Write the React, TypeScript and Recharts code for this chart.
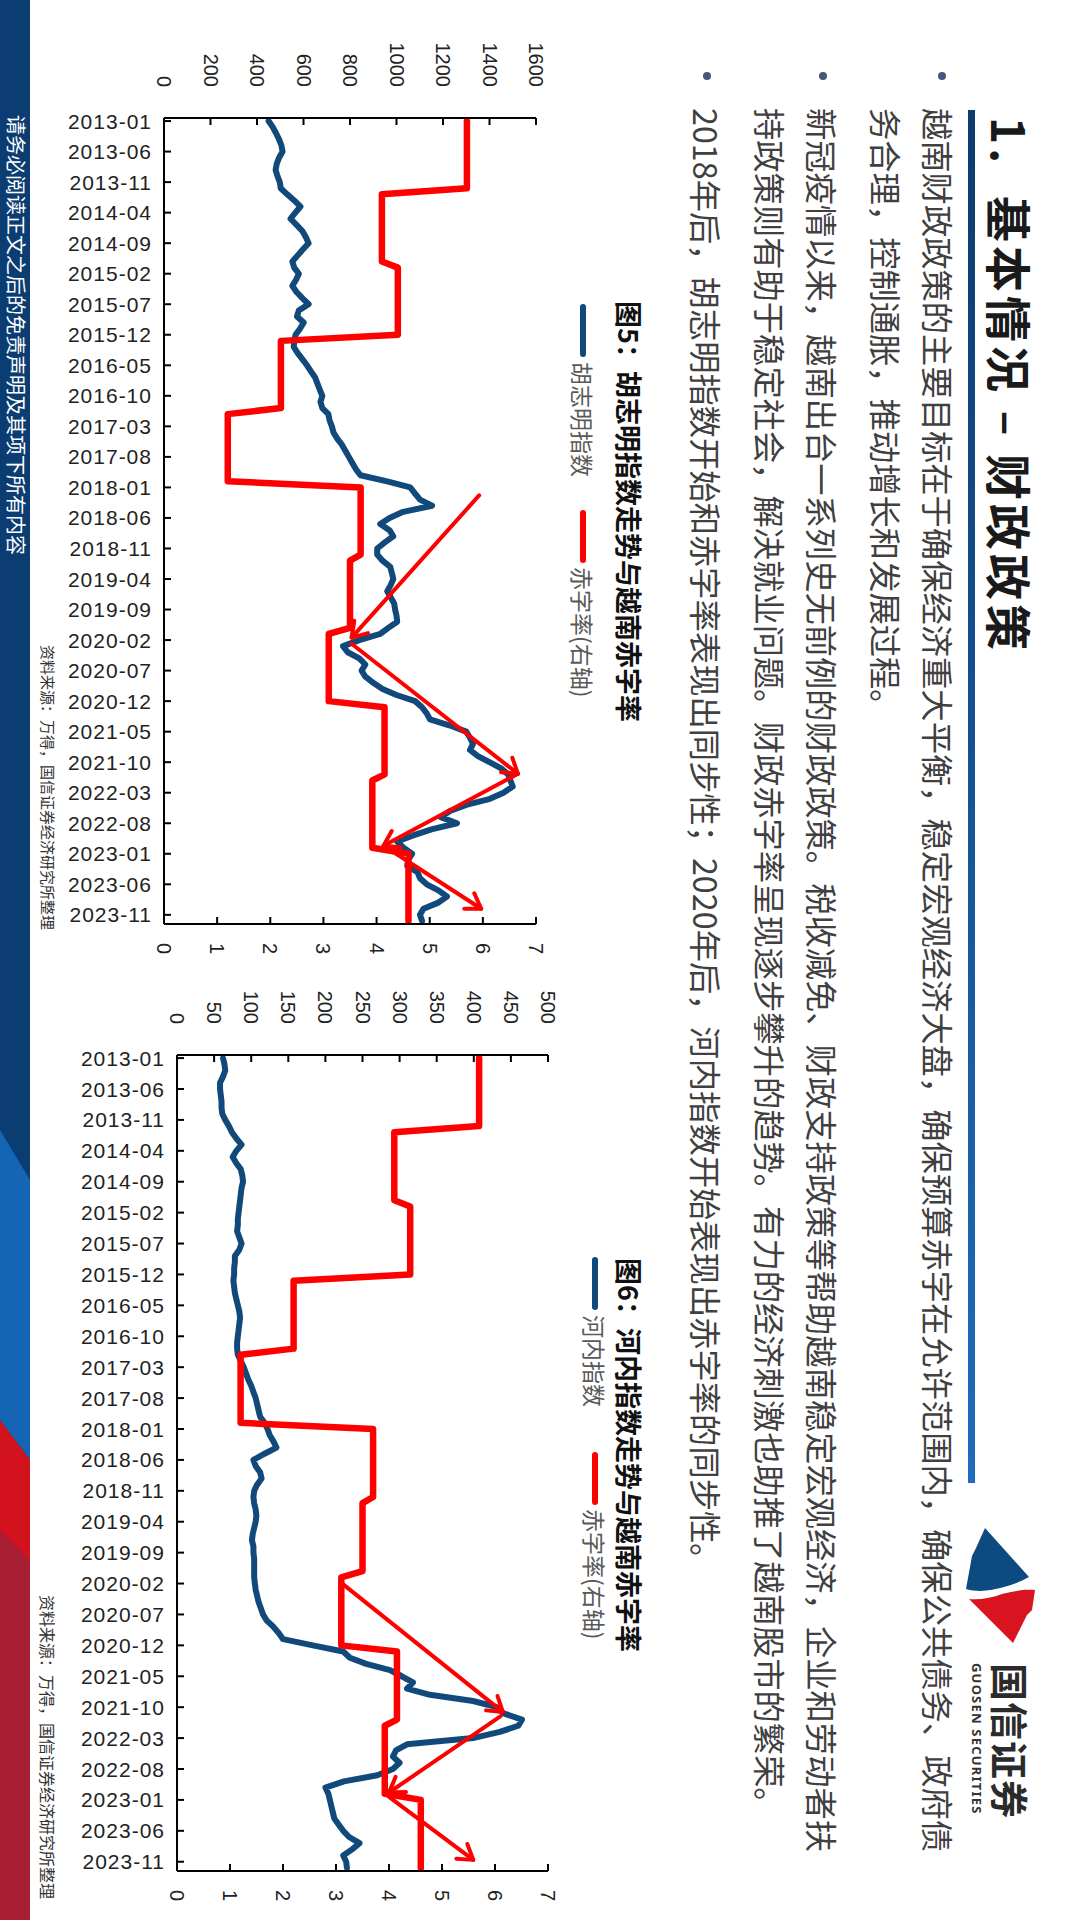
import React from "react";
import { LineChart, Line, XAxis, YAxis, ReferenceLine } from "recharts";

// month labels shown on the date axis (every 5th month, 2013-01 .. 2023-11)
const TICK_LABELS = [
  "2013-01", "2013-06", "2013-11", "2014-04", "2014-09", "2015-02", "2015-07",
  "2015-12", "2016-05", "2016-10", "2017-03", "2017-08", "2018-01", "2018-06",
  "2018-11", "2019-04", "2019-09", "2020-02", "2020-07", "2020-12", "2021-05",
  "2021-10", "2022-03", "2022-08", "2023-01", "2023-06", "2023-11",
];

// monthly values 2013-01 .. 2023-12, one row per year
const HCM_INDEX = [
  450, 468, 482, 495, 505, 510, 495, 485, 480, 488, 498, 502,
  530, 560, 587, 565, 544, 570, 595, 610, 622, 598, 575, 552,
  560, 580, 568, 552, 570, 595, 622, 580, 572, 601, 585, 566,
  560, 558, 575, 595, 615, 632, 650, 660, 670, 681, 673, 681,
  707, 712, 722, 729, 745, 765, 780, 795, 810, 825, 845, 960,
  1059, 1080, 1101, 1153, 1029, 970, 930, 970, 986, 950, 917, 917,
  940, 973, 980, 986, 975, 960, 975, 990, 994, 1000, 1003, 965,
  930, 840, 770, 790, 840, 866, 850, 866, 900, 940, 1000, 1080,
  1110, 1130, 1144, 1230, 1300, 1316, 1329, 1316, 1350, 1400, 1450, 1480,
  1490, 1500, 1460, 1402, 1300, 1230, 1190, 1260, 1150, 1072, 1003, 1030,
  1067, 1050, 1046, 1090, 1101, 1130, 1180, 1217, 1180, 1116, 1101, 1110,
];

const HNX_INDEX = [
  62, 64, 65, 62, 58, 58, 59, 60, 60, 61, 65, 70,
  74, 80, 87, 80, 75, 80, 86, 88, 89, 87, 86, 85,
  84, 83, 82, 82, 81, 84, 87, 84, 78, 78, 77, 77,
  76, 77, 78, 80, 82, 84, 85, 84, 83, 82, 81, 81,
  82, 86, 90, 93, 96, 100, 103, 106, 108, 110, 112, 118,
  122, 125, 130, 134, 118, 103, 106, 112, 114, 108, 104, 103,
  104, 106, 107, 106, 104, 102, 101, 103, 103, 104, 104, 104,
  104, 105, 106, 108, 110, 113, 116, 121, 130, 137, 143, 183,
  224, 233, 255, 287, 303, 318, 310, 341, 399, 431, 440, 465,
  460, 435, 399, 310, 295, 291, 300, 291, 270, 225, 200, 204,
  206, 208, 210, 212, 218, 224, 232, 246, 236, 224, 228, 229,
];

// 越南赤字率 (%), same value for each month of a year
const DEFICIT_RATE = [
  5.7, 5.7, 5.7, 5.7, 5.7, 5.7, 5.7, 5.7, 5.7, 5.7, 5.7, 5.7,
  4.1, 4.1, 4.1, 4.1, 4.1, 4.1, 4.1, 4.1, 4.1, 4.1, 4.1, 4.1,
  4.4, 4.4, 4.4, 4.4, 4.4, 4.4, 4.4, 4.4, 4.4, 4.4, 4.4, 4.4,
  2.2, 2.2, 2.2, 2.2, 2.2, 2.2, 2.2, 2.2, 2.2, 2.2, 2.2, 2.2,
  1.2, 1.2, 1.2, 1.2, 1.2, 1.2, 1.2, 1.2, 1.2, 1.2, 1.2, 1.2,
  3.7, 3.7, 3.7, 3.7, 3.7, 3.7, 3.7, 3.7, 3.7, 3.7, 3.7, 3.7,
  3.5, 3.5, 3.5, 3.5, 3.5, 3.5, 3.5, 3.5, 3.5, 3.5, 3.5, 3.5,
  3.1, 3.1, 3.1, 3.1, 3.1, 3.1, 3.1, 3.1, 3.1, 3.1, 3.1, 3.1,
  4.15, 4.15, 4.15, 4.15, 4.15, 4.15, 4.15, 4.15, 4.15, 4.15, 4.15, 4.15,
  3.92, 3.92, 3.92, 3.92, 3.92, 3.92, 3.92, 3.92, 3.92, 3.92, 3.92, 3.92,
  4.6, 4.6, 4.6, 4.6, 4.6, 4.6, 4.6, 4.6, 4.6, 4.6, 4.6, 4.6,
];

const HCM_TICKS = [0, 200, 400, 600, 800, 1000, 1200, 1400, 1600];
const HNX_TICKS = [0, 50, 100, 150, 200, 250, 300, 350, 400, 450, 500];
const RATE_TICKS = [0, 1, 2, 3, 4, 5, 6, 7];

// hand-drawn red arrows, [monthIndex, rate] start -> end
const HCM_ARROWS = [
  [[61.3, 5.93], [84.6, 3.53]],
  [[85.6, 3.53], [106.9, 6.66]],
  [[106.9, 6.66], [118.7, 4.13]],
  [[119.5, 4.28], [129.0, 5.97]],
];
const HNX_ARROWS = [
  [[84.9, 3.1], [105.8, 6.15]],
  [[106.5, 6.1], [118.8, 4.0]],
  [[119.5, 4.0], [129.7, 5.59]],
];

const hcmData = HCM_INDEX.map((v, i) => ({ i, idx: v, rate: DEFICIT_RATE[i] }));
const hnxData = HNX_INDEX.map((v, i) => ({ i, idx: v, rate: DEFICIT_RATE[i] }));
const dateTicks = TICK_LABELS.map((_, k) => k * 5);

const CJK = '"Noto Sans CJK SC", "Noto Sans", sans-serif';
const AXIS_FONT = '"Liberation Sans", "Noto Sans CJK SC", sans-serif';
const BLUE = "#114a7a";
const RED = "#ff0000";

function DateTick(props: any) {
  const { x, y, payload } = props;
  const ty = y + 12;
  return (
    <g>
      <line x1={x} y1={y} x2={x} y2={y - 7} stroke="#000" strokeWidth={2} />
      <text
        x={x}
        y={ty}
        transform={`rotate(-90 ${x} ${ty})`}
        textAnchor="end"
        dominantBaseline="central"
        fontSize={21}
        letterSpacing={1}
        fill="#222"
        fontFamily={AXIS_FONT}
      >
        {TICK_LABELS[Math.round(payload.value / 5)]}
      </text>
    </g>
  );
}

function LeftTick(props: any) {
  const { x, y, payload } = props;
  return (
    <g>
      <line x1={x} y1={y} x2={x + 7} y2={y} stroke="#000" strokeWidth={2} />
      <text x={x - 31} y={y} textAnchor="end" dominantBaseline="central" fontSize={20} fill="#222" fontFamily={AXIS_FONT}>
        {payload.value}
      </text>
    </g>
  );
}

function RightTick(props: any) {
  const { x, y, payload } = props;
  return (
    <g>
      <line x1={x} y1={y} x2={x - 7} y2={y} stroke="#000" strokeWidth={2} />
      <text x={x + 19} y={y} textAnchor="start" dominantBaseline="central" fontSize={20} fill="#222" fontFamily={AXIS_FONT}>
        {payload.value}
      </text>
    </g>
  );
}

const arrowShape = (props: any) => {
  const { x1, y1, x2, y2 } = props;
  const ang = Math.atan2(y2 - y1, x2 - x1);
  const L = 17;
  const a = Math.PI / 5.5;
  const p1 = `${x2 - L * Math.cos(ang - a)},${y2 - L * Math.sin(ang - a)}`;
  const p2 = `${x2 - L * Math.cos(ang + a)},${y2 - L * Math.sin(ang + a)}`;
  return (
    <g>
      <line x1={x1} y1={y1} x2={x2} y2={y2} stroke={RED} strokeWidth={4} strokeLinecap="round" />
      <polyline points={`${p1} ${x2},${y2} ${p2}`} fill="none" stroke={RED} strokeWidth={4} strokeLinecap="round" strokeLinejoin="round" />
    </g>
  );
};

type PanelProps = {
  data: { i: number; idx: number; rate: number }[];
  leftMax: number;
  leftTicks: number[];
  arrows: number[][][];
  width: number;
  height: number;
};

function Panel({ data, leftMax, leftTicks, arrows, width, height }: PanelProps) {
  const axisLine = { stroke: "#000", strokeWidth: 2 };
  return (
    <LineChart width={width} height={height} data={data} margin={{ top: 24, right: 0, bottom: 0, left: 0 }}>
      <XAxis
        dataKey="i"
        type="number"
        domain={[-0.5, 131.5]}
        ticks={dateTicks}
        interval={0}
        height={110}
        tickSize={0}
        tickMargin={0}
        tickLine={false}
        axisLine={axisLine}
        tick={<DateTick />}
      />
      <YAxis
        yAxisId="left"
        domain={[0, leftMax]}
        ticks={leftTicks}
        interval={0}
        width={118}
        tickSize={0}
        tickMargin={0}
        tickLine={false}
        axisLine={axisLine}
        tick={<LeftTick />}
      />
      <YAxis
        yAxisId="right"
        orientation="right"
        domain={[0, 7]}
        ticks={RATE_TICKS}
        interval={0}
        width={40}
        tickSize={0}
        tickMargin={0}
        tickLine={false}
        axisLine={axisLine}
        tick={<RightTick />}
      />
      <Line yAxisId="left" type="linear" dataKey="idx" stroke={BLUE} strokeWidth={6} dot={false} strokeLinejoin="round" strokeLinecap="round" isAnimationActive={false} />
      <Line yAxisId="right" type="linear" dataKey="rate" stroke={RED} strokeWidth={6.5} dot={false} strokeLinejoin="round" strokeLinecap="round" isAnimationActive={false} />
      {arrows.map((seg, k) => (
        <ReferenceLine
          key={k}
          yAxisId="right"
          ifOverflow="visible"
          segment={[
            { x: seg[0][0], y: seg[0][1] },
            { x: seg[1][0], y: seg[1][1] },
          ]}
          shape={arrowShape}
        />
      ))}
    </LineChart>
  );
}

const textLine = (top: number, text: string, full: boolean, key: string) => (
  <div
    key={key}
    style={{
      position: "absolute",
      left: 108,
      top: top - 18,
      width: 1732,
      height: 36,
      lineHeight: "36px",
      fontSize: 32.3,
      color: "#404040",
      textAlign: "justify",
      textAlignLast: full ? "justify" : "left",
      whiteSpace: "nowrap",
    } as React.CSSProperties}
  >
    {text}
  </div>
);

const bullet = (top: number, key: string) => (
  <div
    key={key}
    style={{ position: "absolute", left: 72, top: top - 4, width: 8, height: 8, borderRadius: 4, background: "#44587a" }}
  />
);

function Legend({ left, top, first, gap }: { left: number; top: number; first: string; gap: number }) {
  const txt: React.CSSProperties = { fontSize: 23, color: "#595959", lineHeight: "26px" };
  return (
    <div style={{ position: "absolute", left, top: top - 13, display: "flex", alignItems: "center", height: 26 }}>
      <div style={{ width: 53, height: 6, borderRadius: 3, background: BLUE, marginRight: 5 }} />
      <span style={{ ...txt, width: gap }}>{first}</span>
      <div style={{ width: 53, height: 6, borderRadius: 3, background: RED, marginRight: 4 }} />
      <span style={txt}>赤字率(右轴)</span>
    </div>
  );
}

export default function App() {
  return (
    <div
      style={{
        position: "absolute",
        left: 0,
        top: 0,
        width: 1920,
        height: 1080,
        overflow: "hidden",
        background: "#fff",
        transformOrigin: "0 0",
        transform: "translate(1080px, 0) rotate(90deg)",
        fontFamily: CJK,
      }}
    >
      {/* title */}
      <div style={{ position: "absolute", left: 117, top: 44, fontSize: 46, fontWeight: 700, color: "#1a1a1a", lineHeight: "50px", whiteSpace: "pre", letterSpacing: 4 }}>
        {"1.  基本情况 – 财政政策"}
      </div>
      <div style={{ position: "absolute", left: 110, top: 105, width: 1373, height: 7, background: "linear-gradient(90deg, #0d3b6e, #1f6cbc)" }} />

      {/* logo */}
      <svg style={{ position: "absolute", left: 1520, top: 40 }} width={130} height={82} viewBox="1520 40 130 82">
        <path d="M1528 95 L1577 51 C1582 60 1585 68 1587 76 C1590 88 1593 100 1589 114 L1556 108 L1548 104 Z" fill="#0d4a7f" />
        <path d="M1590 45 L1610 48 L1615 53 L1643 67 L1599 111 C1600 100 1598 88 1594 78 C1592 68 1589 58 1590 45 Z" fill="#d7141f" />
      </svg>
      <div style={{ position: "absolute", left: 1663, top: 48, fontSize: 38, fontWeight: 700, color: "#2b2b2b", lineHeight: "42px", letterSpacing: 1 }}>国信证券</div>
      <div style={{ position: "absolute", left: 1663, top: 96, fontSize: 13, fontWeight: 700, color: "#333", lineHeight: "15px", letterSpacing: 1.2, fontFamily: '"Noto Sans", sans-serif' }}>
        GUOSEN SECURITIES
      </div>

      {/* bullets */}
      {bullet(138, "b1")}
      {bullet(257, "b2")}
      {bullet(373, "b3")}
      {textLine(141, "越南财政政策的主要目标在于确保经济重大平衡，稳定宏观经济大盘，确保预算赤字在允许范围内，确保公共债务、政府债", true, "l1")}
      {textLine(193, "务合理，控制通胀，推动增长和发展过程。", false, "l2")}
      {textLine(257, "新冠疫情以来，越南出台一系列史无前例的财政政策。税收减免、财政支持政策等帮助越南稳定宏观经济，企业和劳动者扶", true, "l3")}
      {textLine(309, "持政策则有助于稳定社会，解决就业问题。财政赤字率呈现逐步攀升的趋势。有力的经济刺激也助推了越南股市的繁荣。", false, "l4")}
      {textLine(373, "2018年后，胡志明指数开始和赤字率表现出同步性；2020年后，河内指数开始表现出赤字率的同步性。", false, "l5")}

      {/* chart 5 */}
      <div style={{ position: "absolute", left: 301, top: 436, fontSize: 27, fontWeight: 700, color: "#111", lineHeight: "30px" }}>图5：胡志明指数走势与越南赤字率</div>
      <Legend left={304} top={497} first="胡志明指数" gap={148} />
      <div style={{ position: "absolute", left: 0, top: 520 }}>
        <Panel data={hcmData} leftMax={1600} leftTicks={HCM_TICKS} arrows={HCM_ARROWS} width={964} height={506} />
      </div>
      <div style={{ position: "absolute", left: 645, top: 1022, fontSize: 15, color: "#333", lineHeight: "20px" }}>资料来源：万得，国信证券经济研究所整理</div>

      {/* chart 6 */}
      <div style={{ position: "absolute", left: 1258, top: 436, fontSize: 27, fontWeight: 700, color: "#111", lineHeight: "30px" }}>图6：河内指数走势与越南赤字率</div>
      <Legend left={1257} top={485} first="河内指数" gap={137} />
      <div style={{ position: "absolute", left: 937, top: 508 }}>
        <Panel data={hnxData} leftMax={500} leftTicks={HNX_TICKS} arrows={HNX_ARROWS} width={974} height={505} />
      </div>
      <div style={{ position: "absolute", left: 1595, top: 1022, fontSize: 16, color: "#333", lineHeight: "20px" }}>资料来源：万得，国信证券经济研究所整理</div>

      {/* footer band */}
      <svg style={{ position: "absolute", left: 0, top: 1050 }} width={1920} height={30}>
        <rect x={0} y={0} width={1920} height={30} fill="#0b3d72" />
        <polygon points="1180,0 1460,0 1420,30 1130,30" fill="#1565b5" />
        <polygon points="1460,0 1920,0 1920,30 1420,30" fill="#d2121c" />
        <polygon points="1560,0 1920,0 1920,30 1530,30" fill="#a71d31" />
      </svg>
      <div style={{ position: "absolute", left: 115, top: 1052, fontSize: 20, color: "#fff", lineHeight: "24px" }}>请务必阅读正文之后的免责声明及其项下所有内容</div>
    </div>
  );
}
